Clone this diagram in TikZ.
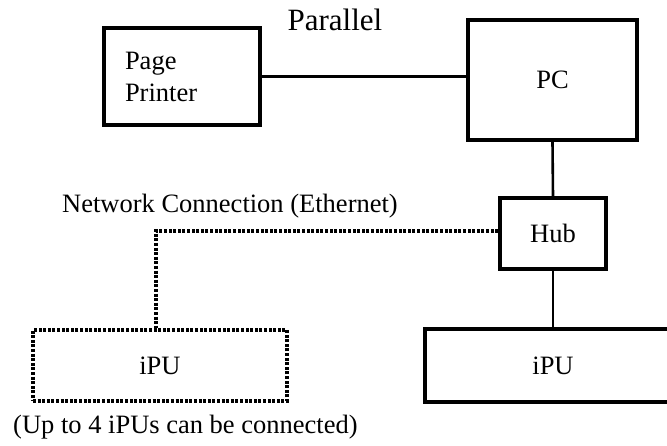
\documentclass[tikz,border=0pt]{standalone}
\usepackage{fontspec}
\setmainfont{Liberation Serif}
\begin{document}
\begin{tikzpicture}[x=1pt,y=-1pt,
  box/.style={draw,line width=3.5pt,rectangle,inner sep=0pt,font=\fontsize{26.5}{32}\selectfont},
  dotbox/.style={draw,line width=3.3pt,dash pattern=on 3pt off 1.6pt,rectangle,inner sep=0pt,font=\fontsize{26.5}{32}\selectfont},
  link/.style={line width=2.6pt},
  dotlink/.style={line width=3.3pt,dash pattern=on 3pt off 1.6pt},
  lbl/.style={inner sep=0pt,font=\fontsize{26.5}{32}\selectfont}]
\useasboundingbox (0,0) rectangle (667,446);
\clip (0,0) rectangle (667,446);
% devices
\node[box,minimum width=156pt,minimum height=97pt,text width=114pt,align=left]
  (printer) at (182,76.5) {Page\\Printer};
\node[box,minimum width=169pt,minimum height=120pt] (pc) at (552.5,80) {PC};
\node[box,minimum width=106pt,minimum height=71pt] (hub) at (553,233.5) {Hub};
\node[box,minimum width=256pt,minimum height=73pt] (ipu) at (553,365.5) {iPU};
\node[dotbox,minimum width=254pt,minimum height=71pt] (ipu2) at (160,365.5) {iPU};
% labels
\node[lbl,font=\fontsize{31}{36}\selectfont,anchor=base] (par) at (335,31) {Parallel};
\node[lbl,anchor=base west] (net) at (62,213) {Network Connection (Ethernet)};
\node[lbl,anchor=base west] (note) at (13,433) {(Up to 4 iPUs can be connected)};
% connections
\draw[link] (printer.east) -- (printer.east -| pc.west);
\draw[link] (pc.south) -- (hub.north);
\draw[link] (hub.south) -- (hub.south |- ipu.north);
\coordinate (bend) at (156,231);
\draw[dotlink] (hub.west |- bend) -- (bend) -- (bend |- ipu2.north);
\end{tikzpicture}
\end{document}
